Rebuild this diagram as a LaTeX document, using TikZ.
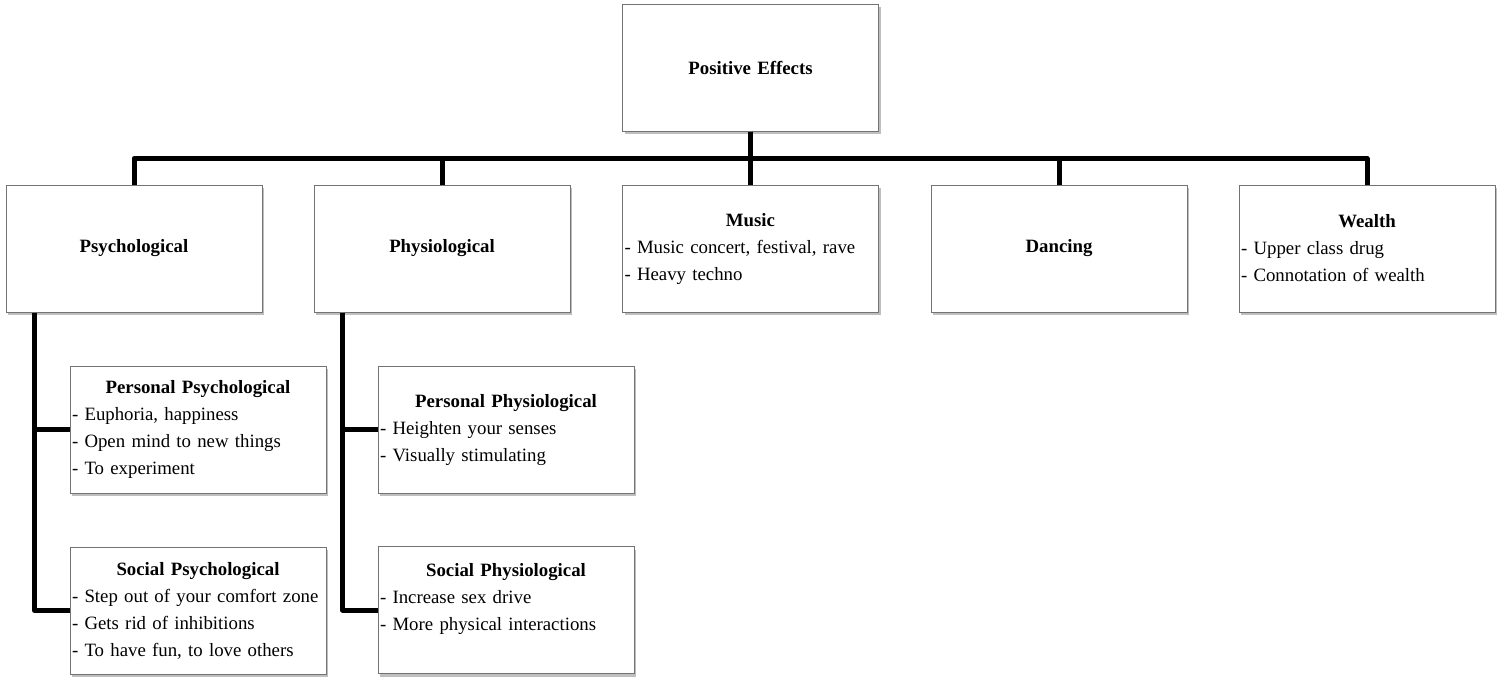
\documentclass[tikz,border=0pt]{standalone}
\usepackage{fontspec}
\setmainfont{Liberation Serif}
\usetikzlibrary{shadows}

\newcommand{\boxhead}[1]{\hfill\textbf{#1}\hfill\null}

\begin{document}
\begin{tikzpicture}[x=0.5pt, y=-0.5pt,
    box/.style={draw=black!55, line width=0.5pt, fill=white,
      minimum width=128pt, minimum height=63.5pt, text width=126pt,
      inner xsep=1pt, align=left, font=\fontsize{9.4}{13.5}\selectfont,
      drop shadow={shadow xshift=1pt, shadow yshift=-1.5pt, opacity=0.5}},
    link/.style={line width=2.5pt, line join=round}]
  \useasboundingbox (0,0) rectangle (1502,677);

  % top and first row
  \node[box] (top) at (750.5,67.5) {\boxhead{Positive Effects}};
  \node[box] (psy) at (134,248.5) {\boxhead{Psychological}};
  \node[box] (phy) at (442,248.5) {\boxhead{Physiological}};
  \node[box] (mus) at (750.5,248.5) {\boxhead{Music}\\
    - Music concert, festival, rave\\
    - Heavy techno};
  \node[box] (dan) at (1059,248.5) {\boxhead{Dancing}};
  \node[box] (wea) at (1367,248.5) {\boxhead{Wealth}\\
    - Upper class drug\\
    - Connotation of wealth};

  % second level
  \node[box] (perpsy) at (198,429.5) {\boxhead{Personal Psychological}\\
    - Euphoria, happiness\\
    - Open mind to new things\\
    - To experiment};
  \node[box] (socpsy) at (198,610.5) {\boxhead{Social Psychological}\\
    - Step out of your comfort zone\\
    - Gets rid of inhibitions\\
    - To have fun, to love others};
  \node[box] (perphy) at (506,429.5) {\boxhead{Personal Physiological}\\
    - Heighten your senses\\
    - Visually stimulating};
  \node[box] (socphy) at (506,610) {\boxhead{Social Physiological}\\
    - Increase sex drive\\
    - More physical interactions\\ ~};

  % connectors
  \foreach \c in {psy,phy,mus,dan,wea}
    \draw[link] (top.south) -- ++(0,27) -| (\c.north);
  \foreach \p/\a/\b in {psy/perpsy/socpsy, phy/perphy/socphy} {
    \draw[link] ([xshift=14.5pt]\p.south west) |- (\a.west);
    \draw[link] ([xshift=14.5pt]\p.south west) |- (\b.west);
  }
\end{tikzpicture}
\end{document}
